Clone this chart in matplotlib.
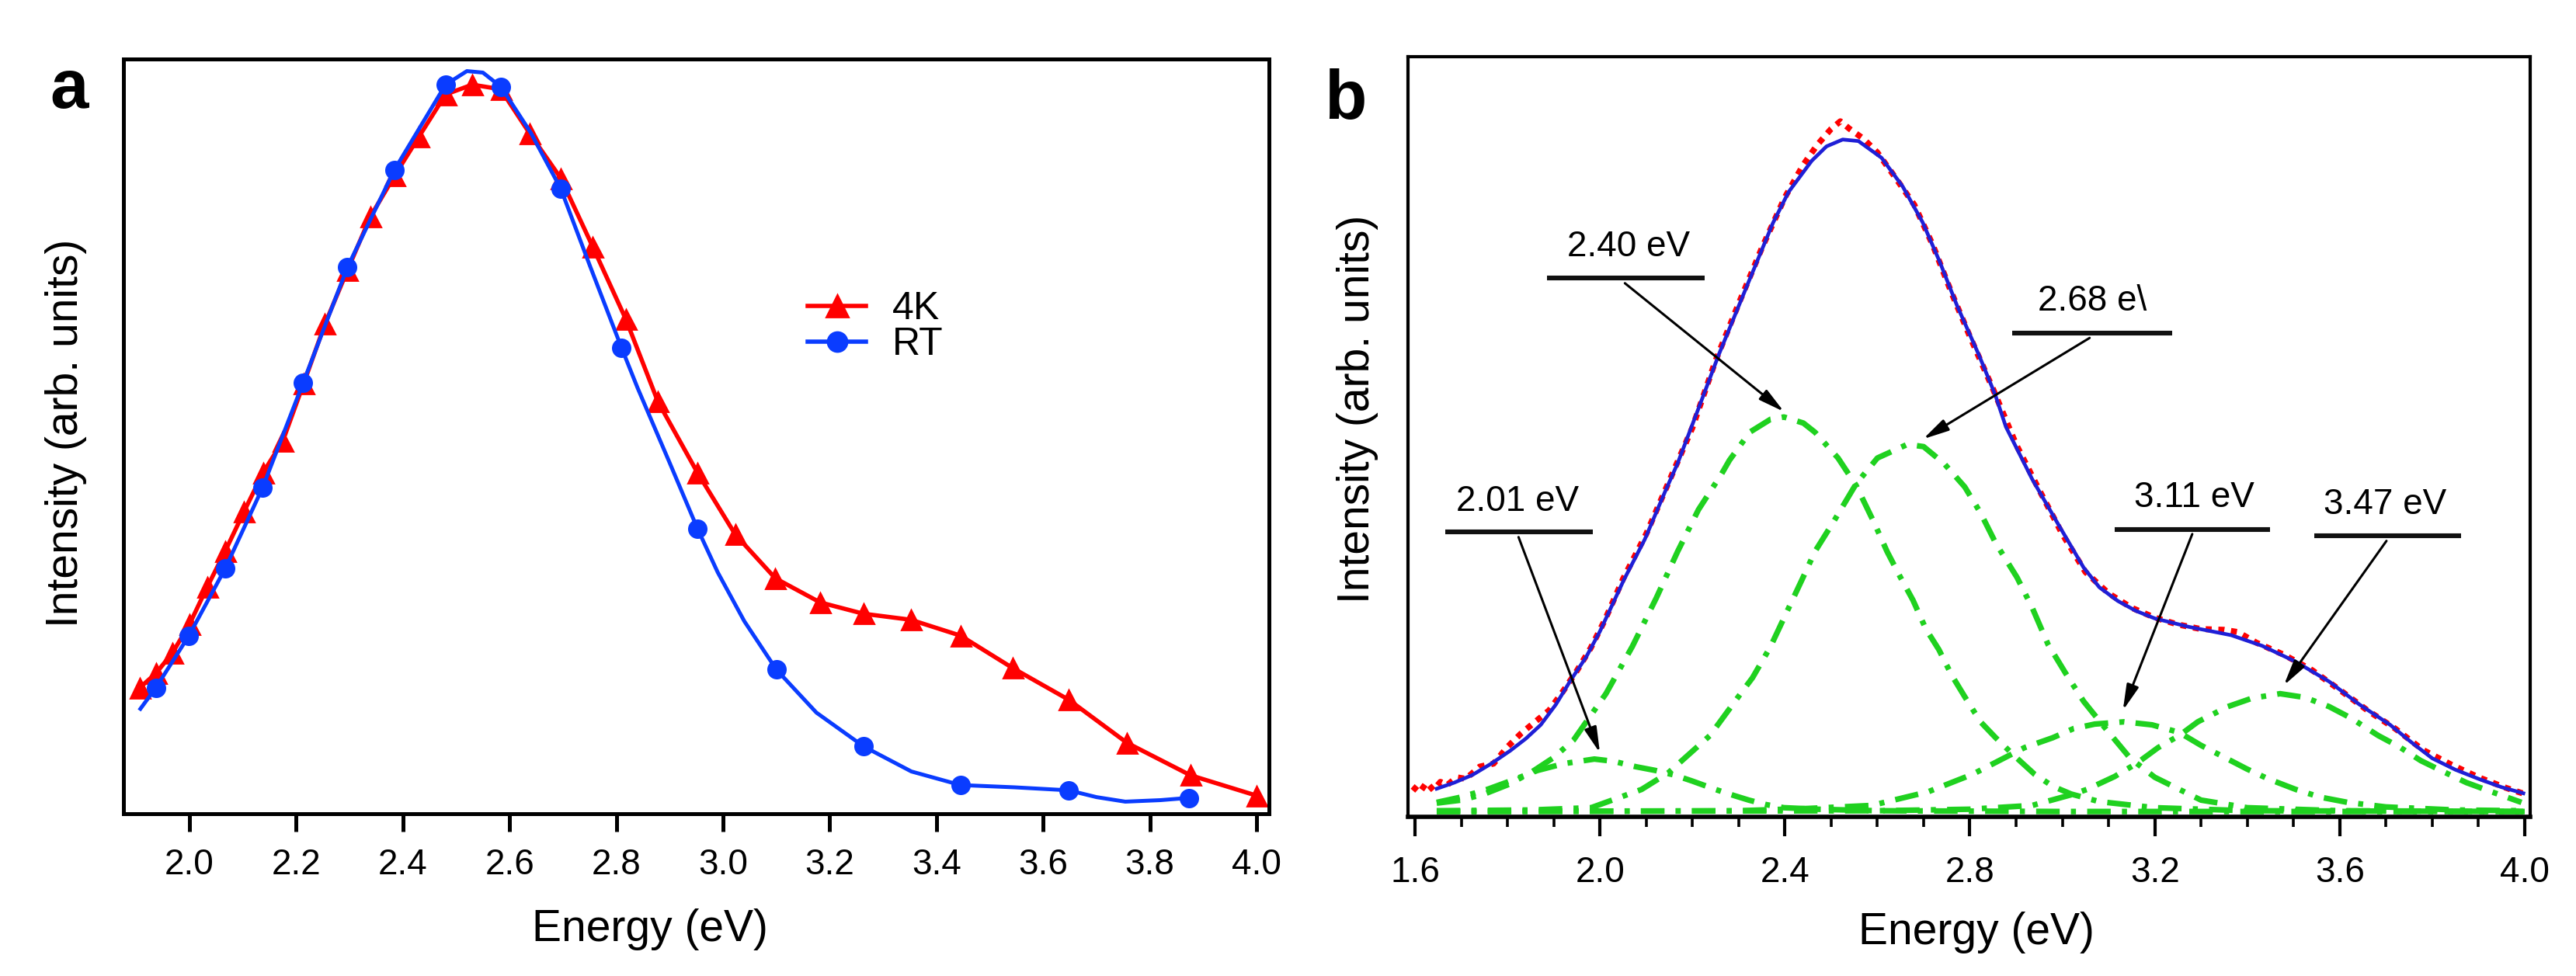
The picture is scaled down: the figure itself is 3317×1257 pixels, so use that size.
import numpy as np
import matplotlib
matplotlib.use("Agg")
import matplotlib.pyplot as plt
from matplotlib.lines import Line2D

plt.rcParams['font.family'] = ['Liberation Sans', 'DejaVu Sans']

# ---------------- Panel a data ----------------
rt_E = [1.908, 1.937, 1.999, 2.067, 2.137, 2.213, 2.296, 2.384, 2.480, 2.520, 2.550,
        2.584, 2.640, 2.696, 2.750, 2.810, 2.840, 2.900, 2.952, 2.990, 3.040, 3.100,
        3.175, 3.264, 3.353, 3.445, 3.546, 3.648, 3.700, 3.754, 3.820, 3.873]
rt_I = [0.139, 0.167, 0.236, 0.325, 0.432, 0.571, 0.724, 0.853, 0.966, 0.984, 0.982,
        0.963, 0.902, 0.828, 0.727, 0.617, 0.564, 0.465, 0.378, 0.320, 0.255, 0.191,
        0.134, 0.089, 0.056, 0.038, 0.035, 0.031, 0.022, 0.016, 0.018, 0.021]
rt_marker_E = [1.937, 1.999, 2.067, 2.137, 2.213, 2.296, 2.384, 2.480, 2.584, 2.696,
               2.810, 2.952, 3.100, 3.264, 3.445, 3.648, 3.873]

k4_E = [1.907, 1.937, 1.968, 2.000, 2.033, 2.067, 2.102, 2.138, 2.175, 2.214, 2.254,
        2.296, 2.339, 2.385, 2.430, 2.480, 2.530, 2.583, 2.638, 2.696, 2.756, 2.818,
        2.878, 2.952, 3.023, 3.098, 3.182, 3.263, 3.352, 3.445, 3.543, 3.648, 3.757,
        3.876, 4.000]
k4_I = [0.167, 0.186, 0.213, 0.251, 0.300, 0.348, 0.400, 0.452, 0.494, 0.570, 0.649,
        0.720, 0.791, 0.846, 0.897, 0.953, 0.966, 0.960, 0.901, 0.842, 0.751, 0.655,
        0.546, 0.452, 0.370, 0.312, 0.280, 0.265, 0.257, 0.236, 0.193, 0.151, 0.094,
        0.051, 0.024]

a_ticks = [2.0, 2.2, 2.4, 2.6, 2.8, 3.0, 3.2, 3.4, 3.6, 3.8, 4.0]

# ---------------- Panel b data ----------------
data_E = [1.595, 1.610, 1.625, 1.640, 1.655, 1.670, 1.690, 1.710, 1.740, 1.770, 1.800,
          1.830, 1.860, 1.890, 1.920, 1.950, 1.980, 2.010, 2.050, 2.100, 2.150, 2.200,
          2.250, 2.300, 2.350, 2.400, 2.440, 2.470, 2.500, 2.520, 2.540, 2.570, 2.600,
          2.640, 2.680, 2.720, 2.760, 2.800, 2.850, 2.900, 2.950, 3.000, 3.050, 3.100,
          3.150, 3.200, 3.250, 3.300, 3.350, 3.380, 3.420, 3.480, 3.540, 3.600, 3.660,
          3.720, 3.780, 3.840, 3.900, 3.960, 4.000]
data_I = [0.040, 0.032, 0.045, 0.035, 0.046, 0.042, 0.052, 0.050, 0.066, 0.070, 0.092,
          0.110, 0.125, 0.140, 0.165, 0.192, 0.222, 0.258, 0.313, 0.372, 0.442, 0.512,
          0.600, 0.675, 0.748, 0.815, 0.858, 0.884, 0.905, 0.915, 0.905, 0.892, 0.874,
          0.840, 0.805, 0.752, 0.690, 0.632, 0.563, 0.490, 0.430, 0.372, 0.322, 0.294,
          0.275, 0.262, 0.253, 0.247, 0.246, 0.243, 0.229, 0.213, 0.193, 0.167, 0.140,
          0.116, 0.088, 0.069, 0.052, 0.038, 0.030]

fit_E = [1.647, 1.685, 1.724, 1.765, 1.806, 1.840, 1.872, 1.905, 1.936, 1.970, 2.000,
         2.052, 2.097, 2.141, 2.168, 2.213, 2.257, 2.319, 2.374, 2.408, 2.458, 2.490,
         2.525, 2.559, 2.609, 2.655, 2.698, 2.735, 2.772, 2.820, 2.855, 2.878, 2.935,
         2.991, 3.046, 3.080, 3.120, 3.159, 3.200, 3.273, 3.365, 3.432, 3.505, 3.577,
         3.642, 3.709, 3.755, 3.800, 3.850, 3.900, 3.950, 3.997]
fit_I = [0.037, 0.045, 0.055, 0.070, 0.087, 0.103, 0.121, 0.148, 0.179, 0.210, 0.244,
         0.312, 0.365, 0.428, 0.465, 0.537, 0.608, 0.700, 0.781, 0.822, 0.863, 0.882,
         0.891, 0.889, 0.867, 0.829, 0.782, 0.730, 0.673, 0.607, 0.555, 0.513, 0.444,
         0.385, 0.328, 0.302, 0.284, 0.271, 0.261, 0.250, 0.239, 0.225, 0.204, 0.178,
         0.148, 0.121, 0.098, 0.077, 0.062, 0.050, 0.039, 0.031]

c201_E = [1.647, 1.700, 1.756, 1.810, 1.865, 1.922, 1.988, 2.030, 2.077, 2.120, 2.161,
          2.200, 2.250, 2.290, 2.322, 2.360, 2.398, 2.470, 2.600, 3.000, 3.500, 4.000]
c201_I = [0.019, 0.026, 0.036, 0.048, 0.061, 0.070, 0.076, 0.073, 0.066, 0.061, 0.055,
          0.047, 0.036, 0.028, 0.022, 0.016, 0.012, 0.010, 0.008, 0.007, 0.007, 0.007]

c240_E = [1.647, 1.700, 1.750, 1.800, 1.850, 1.900, 1.943, 2.013, 2.070, 2.122, 2.168,
          2.213, 2.263, 2.280, 2.324, 2.369, 2.398, 2.440, 2.465, 2.515, 2.554, 2.593,
          2.621, 2.650, 2.677, 2.705, 2.733, 2.761, 2.789, 2.823, 2.856, 2.895, 2.940,
          2.980, 3.019, 3.080, 3.200, 3.400, 4.000]
c240_I = [0.018, 0.022, 0.030, 0.042, 0.058, 0.078, 0.101, 0.162, 0.224, 0.288, 0.349,
          0.404, 0.451, 0.469, 0.506, 0.523, 0.526, 0.518, 0.506, 0.472, 0.436, 0.387,
          0.349, 0.315, 0.285, 0.247, 0.220, 0.186, 0.158, 0.125, 0.104, 0.081, 0.056,
          0.040, 0.030, 0.020, 0.012, 0.008, 0.007]

c268_E = [1.647, 1.850, 1.981, 2.090, 2.148, 2.238, 2.309, 2.330, 2.369, 2.403, 2.437,
          2.465, 2.504, 2.554, 2.600, 2.665, 2.700, 2.744, 2.789, 2.823, 2.856, 2.902,
          2.935, 2.969, 3.007, 3.046, 3.091, 3.147, 3.200, 3.300, 3.400, 3.600, 4.000]
c268_I = [0.008, 0.009, 0.012, 0.036, 0.058, 0.107, 0.166, 0.183, 0.224, 0.268, 0.312,
          0.349, 0.387, 0.438, 0.472, 0.490, 0.487, 0.465, 0.434, 0.400, 0.360, 0.315,
          0.275, 0.227, 0.189, 0.152, 0.118, 0.077, 0.052, 0.022, 0.012, 0.008, 0.007]

c311_E = [1.647, 2.300, 2.450, 2.588, 2.710, 2.806, 2.873, 2.918, 2.979, 3.024, 3.070,
          3.134, 3.194, 3.253, 3.300, 3.345, 3.399, 3.445, 3.505, 3.557, 3.617, 3.700,
          3.850, 4.000]
c311_I = [0.007, 0.008, 0.011, 0.015, 0.033, 0.056, 0.077, 0.091, 0.104, 0.116, 0.122,
          0.125, 0.121, 0.111, 0.094, 0.080, 0.063, 0.050, 0.036, 0.026, 0.019, 0.013,
          0.009, 0.008]

c347_E = [1.647, 2.600, 2.800, 2.935, 3.019, 3.053, 3.113, 3.160, 3.207, 3.253, 3.293,
          3.358, 3.410, 3.471, 3.525, 3.577, 3.624, 3.683, 3.729, 3.775, 3.822, 3.874,
          3.928, 3.993]
c347_I = [0.007, 0.008, 0.010, 0.015, 0.029, 0.036, 0.053, 0.070, 0.091, 0.107, 0.125,
          0.145, 0.156, 0.162, 0.157, 0.145, 0.130, 0.107, 0.092, 0.074, 0.060, 0.045,
          0.033, 0.019]

b_major_ticks = [1.6, 2.0, 2.4, 2.8, 3.2, 3.6, 4.0]
b_minor_ticks = [1.7, 1.8, 1.9, 2.1, 2.2, 2.3, 2.5, 2.6, 2.7, 2.9, 3.0, 3.1,
                 3.3, 3.4, 3.5, 3.7, 3.8, 3.9]

# peak annotation labels
peak_labels = ["2.01 eV", "2.40 eV", "2.68 e\\", "3.11 eV", "3.47 eV"]

# ---------------- Figure ----------------
W, H, DPI = 3317, 1257, 200
fig = plt.figure(figsize=(W / DPI, H / DPI), dpi=DPI)
fig.patch.set_facecolor('white')

axa = fig.add_axes([159 / W, 1 - 1048 / H, 1475 / W, 972 / H])
axb = fig.add_axes([1813 / W, 1 - 1052 / H, 1445 / W, 979 / H])

RED = '#ff0000'
BLUE_A = '#0a3cff'
BLUE_B = '#1f1fd6'
GREEN = '#1fd11f'

# ---- panel a ----
axa.plot(k4_E, k4_I, color=RED, lw=2.0, marker='^', ms=9, mec=RED, mfc=RED,
         zorder=2, label='4K')
rt_mask = np.isin(np.array(rt_E), np.array(rt_marker_E))
axa.plot(rt_E, rt_I, color=BLUE_A, lw=1.8, marker='o', ms=8, mec=BLUE_A, mfc=BLUE_A,
         markevery=list(np.where(rt_mask)[0]), zorder=3, label='RT')

axa.set_xlim(1.8763, 4.0233)
axa.set_ylim(0, 1)
axa.set_xticks(a_ticks)
axa.set_xticklabels([f"{t:.1f}" for t in a_ticks])
axa.set_yticks([])
axa.tick_params(axis='x', direction='out', length=8.3, width=1.8, pad=7.5,
                labelsize=16.5, top=False)
for s in axa.spines.values():
    s.set_linewidth(1.8)

leg_handles = [Line2D([], [], color=RED, lw=2.0, marker='^', ms=10),
               Line2D([], [], color=BLUE_A, lw=2.0, marker='o', ms=9)]
axa.legend(leg_handles, ['4K', 'RT'], loc='center left',
           bbox_to_anchor=((1040 - 159) / 1475, (1048 - 421) / 972),
           frameon=False, fontsize=18, handlelength=1.5, handletextpad=0.68,
           labelspacing=0.0, borderpad=0, borderaxespad=0)

axa.set_xlabel('Energy (eV)', fontsize=20.5)
axa.xaxis.set_label_coords(0.4597, -0.169)
axa.xaxis.label.set_va('baseline')
axa.set_ylabel('Intensity (arb. units)', fontsize=20.5)
axa.yaxis.set_label_coords(-0.032, 0.504)

# ---- panel b ----
dash_style = (0, (4.2, 2.0, 0.9, 2.0))
for cE, cI in [(c201_E, c201_I), (c240_E, c240_I), (c268_E, c268_I),
               (c311_E, c311_I), (c347_E, c347_I)]:
    axb.plot(cE, cI, color=GREEN, lw=2.6, linestyle=dash_style, zorder=2)

axb.plot(data_E, data_I, color=RED, lw=2.8, linestyle=(0, (1, 1.1)), zorder=3)
axb.plot(fit_E, fit_I, color=BLUE_B, lw=1.7, zorder=4)

axb.set_xlim(1.5849, 4.0118)
axb.set_ylim(0, 1)
axb.set_xticks(b_major_ticks)
axb.set_xticklabels([f"{t:.1f}" for t in b_major_ticks])
axb.set_xticks(b_minor_ticks, minor=True)
axb.set_yticks([])
axb.tick_params(axis='x', which='major', direction='out', length=9, width=1.5,
                pad=9, labelsize=16.5)
axb.tick_params(axis='x', which='minor', direction='out', length=4.7, width=1.3)
for s in axb.spines.values():
    s.set_linewidth(1.5)
axb.spines['bottom'].set_linewidth(2.0)

axb.set_xlabel('Energy (eV)', fontsize=20.5)
axb.xaxis.set_label_coords(0.5066, -0.1675)
axb.xaxis.label.set_va('baseline')
axb.set_ylabel('Intensity (arb. units)', fontsize=20.5)
axb.yaxis.set_label_coords(-0.0263, 0.536)

# annotation geometry (data coordinates): text left/baseline, bar, arrow start -> tip
ann_text_xy = [(1.689, 0.402), (1.929, 0.737), (2.947, 0.666), (3.155, 0.408), (3.565, 0.398)]
ann_bar = [(1.666, 1.985, 0.375), (1.886, 2.227, 0.709), (2.892, 3.237, 0.636),
           (3.113, 3.449, 0.378), (3.545, 3.862, 0.370)]
ann_arrow = [((1.824, 0.368), (2.000, 0.084)),
             ((2.054, 0.702), (2.398, 0.533)),
             ((3.059, 0.630), (2.699, 0.497)),
             ((3.281, 0.372), (3.131, 0.140)),
             ((3.701, 0.363), (3.479, 0.173))]

for lab, (tx, ty), (bx0, bx1, by), (st, tip) in zip(peak_labels, ann_text_xy, ann_bar, ann_arrow):
    axb.text(tx, ty, lab, fontsize=16.5, ha='left', va='baseline', zorder=6)
    axb.plot([bx0, bx1], [by, by], color='#111111', lw=2.2, solid_capstyle='butt', zorder=6)
    axb.annotate('', xy=tip, xytext=st,
                 arrowprops=dict(arrowstyle='-|>,head_length=0.5,head_width=0.12',
                                 mutation_scale=20, lw=1.1, color='black',
                                 shrinkA=0, shrinkB=0),
                 zorder=6)

# panel letters
fig.text(64 / W, 1 - 139 / H, 'a', fontsize=32, fontweight='bold', ha='left', va='baseline')
fig.text(1705 / W, 1 - 153 / H, 'b', fontsize=32, fontweight='bold', ha='left', va='baseline')

fig.savefig('out.png', dpi=DPI, facecolor='white')
